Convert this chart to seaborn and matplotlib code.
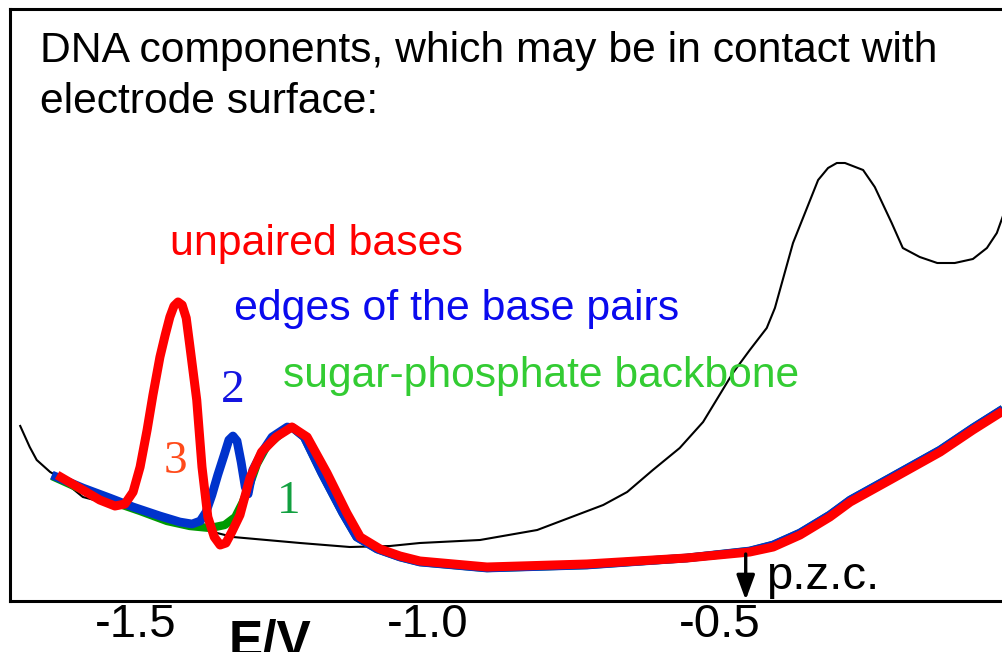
import matplotlib
matplotlib.use("Agg")
import matplotlib.pyplot as plt
import seaborn as sns
import pandas as pd

# Capacitance-potential curves (E in V, C in arbitrary units)
E_electrolyte = [-1.699, -1.682, -1.670, -1.647, -1.635, -1.591, -1.545, -1.493, -1.442,
                 -1.390, -1.368, -1.334, -1.219, -1.134, -1.065, -1.014, -0.911, -0.813,
                 -0.700, -0.659, -0.615, -0.569, -0.529, -0.478, -0.449, -0.420, -0.406,
                 -0.375, -0.332, -0.315, -0.300, -0.286, -0.255, -0.235, -0.206, -0.187,
                 -0.158, -0.128, -0.098, -0.067, -0.043, -0.026, -0.010]
C_electrolyte = [17.5, 15.3, 14.0, 12.8, 12.4, 10.3, 9.6, 8.8, 8.0,
                 7.4, 6.8, 6.3, 5.7, 5.3, 5.4, 5.7, 6.0, 7.0,
                 9.5, 10.8, 13.0, 15.2, 17.8, 22.7, 25.0, 27.2, 29.2,
                 35.7, 42.0, 43.2, 43.7, 43.7, 43.0, 41.3, 37.7, 35.2,
                 34.3, 33.7, 33.7, 34.1, 35.2, 36.7, 39.3]

E_backbone = [-1.644, -1.591, -1.533, -1.493, -1.447, -1.408, -1.373, -1.348, -1.330,
              -1.317, -1.305, -1.293, -1.276, -1.241, -1.231, -1.212, -1.182, -1.146,
              -1.122, -1.087, -1.048, -1.014, -0.899, -0.728, -0.557, -0.449, -0.409,
              -0.363, -0.312, -0.277, -0.209, -0.123, -0.067, -0.010]
C_backbone = [12.4, 11.0, 9.7, 8.9, 7.9, 7.4, 7.2, 7.5, 8.3,
              9.8, 11.6, 13.6, 15.4, 17.2, 17.2, 16.3, 12.7, 8.7,
              6.3, 5.1, 4.3, 3.8, 3.2, 3.5, 4.2, 4.9, 5.5,
              6.7, 8.5, 10.0, 12.2, 15.0, 17.2, 19.3]

E_edges = [-1.644, -1.591, -1.545, -1.505, -1.459, -1.425, -1.404, -1.390, -1.380,
           -1.370, -1.360, -1.349, -1.341, -1.334, -1.327, -1.320, -1.313, -1.308,
           -1.300, -1.284, -1.267, -1.241, -1.231, -1.212, -1.182, -1.146, -1.122,
           -1.087, -1.048, -1.014, -0.899, -0.728, -0.557, -0.449, -0.409, -0.363,
           -0.312, -0.277, -0.209, -0.123, -0.067, -0.010]
C_edges = [12.5, 11.2, 10.2, 9.3, 8.4, 7.8, 7.6, 7.9, 8.8,
           10.5, 12.5, 14.5, 16.0, 16.4, 15.9, 13.8, 11.3, 10.6,
           13.0, 14.8, 16.3, 17.3, 17.2, 16.3, 12.7, 8.7, 6.3,
           5.1, 4.3, 3.8, 3.2, 3.5, 4.2, 4.9, 5.5, 6.7,
           8.5, 10.0, 12.2, 15.0, 17.2, 19.3]

E_unpaired = [-1.635, -1.591, -1.562, -1.536, -1.519, -1.505, -1.493, -1.481, -1.471,
              -1.459, -1.450, -1.442, -1.435, -1.428, -1.421, -1.414, -1.408, -1.396,
              -1.387, -1.377, -1.366, -1.356, -1.346, -1.336, -1.322, -1.305, -1.285,
              -1.260, -1.233, -1.207, -1.173, -1.139, -1.116, -1.082, -1.048, -1.014,
              -0.899, -0.728, -0.557, -0.449, -0.409, -0.363, -0.312, -0.277, -0.209,
              -0.123, -0.067, -0.010]
C_unpaired = [12.5, 11.0, 10.0, 9.4, 9.6, 10.8, 13.3, 17.0, 20.5,
              24.3, 26.5, 28.3, 29.4, 29.8, 29.5, 28.2, 25.5, 20.0,
              13.3, 8.3, 6.3, 5.5, 5.7, 6.8, 8.5, 12.2, 14.8,
              16.3, 17.3, 16.3, 12.7, 8.7, 6.3, 5.1, 4.4, 3.9,
              3.3, 3.6, 4.2, 4.8, 5.3, 6.5, 8.3, 9.8, 12.0,
              14.8, 17.0, 19.1]

tick_values = [-1.5, -1.0, -0.5]
tick_labels = ["-1.5", "-1.0", "-0.5"]
E_pzc = -0.456

sns.set_style("white")
plt.rcParams["font.family"] = ["Liberation Sans", "DejaVu Sans"]
plt.rcParams["axes.unicode_minus"] = False
plt.rcParams["text.color"] = "black"
plt.rcParams["xtick.color"] = "black"

fig = plt.figure(figsize=(10.02, 6.52), dpi=100)
ax = fig.add_axes([9.5 / 1002, 51.5 / 652, 996.5 / 1002, 592 / 652])

curves = [
    (E_electrolyte, C_electrolyte, "black", 1.5),
    (E_backbone, C_backbone, "#009a00", 6.0),
    (E_edges, C_edges, "#0033cc", 6.3),
    (E_unpaired, C_unpaired, "#ff0000", 6.5),
]
for E, C, color, lw in curves:
    df = pd.DataFrame({"E": E, "C": C})
    sns.lineplot(data=df, x="E", y="C", ax=ax, color=color, lw=lw,
                 sort=False, estimator=None, legend=False,
                 solid_capstyle="butt", solid_joinstyle="round")

ax.set_xlim(-1.7166, -0.0103)
ax.set_ylim(-0.05, 59.15)
ax.set_xticks(tick_values)
ax.set_xticklabels(tick_labels, fontsize=34, color="black")
ax.set_yticks([])
ax.tick_params(axis="x", length=0, pad=2)
ax.set_xlabel("")
ax.set_ylabel("")
for side in ["left", "bottom", "top"]:
    ax.spines[side].set_visible(True)
    ax.spines[side].set_color("black")
    ax.spines[side].set_linewidth(2.2)
ax.spines["right"].set_visible(False)

tr = ax.transAxes
ax.text(0.0306, 0.9096, "DNA components, which may be in contact with",
        transform=tr, fontsize=30.7, va="baseline", ha="left", color="black")
ax.text(0.0306, 0.8235, "electrode surface:",
        transform=tr, fontsize=30.7, va="baseline", ha="left", color="black")

ax.text(0.1611, 0.5836, "unpaired bases", transform=tr, fontsize=30.9,
        color="#ff0000", va="baseline", ha="left")
ax.text(0.2253, 0.4738, "edges of the base pairs", transform=tr, fontsize=30.9,
        color="#0a0aee", va="baseline", ha="left")
ax.text(0.2745, 0.3606, "sugar-phosphate backbone", transform=tr, fontsize=30.7,
        color="#33cc33", va="baseline", ha="left")

serif = ["Liberation Serif", "DejaVu Serif"]
ax.text(0.2238, 0.3353, "2", transform=tr, fontsize=34, family=serif,
        color="#1414e0", va="baseline", ha="center")
ax.text(0.1661, 0.2154, "3", transform=tr, fontsize=34, family=serif,
        color="#ff4a1a", va="baseline", ha="center")
ax.text(0.2800, 0.1478, "1", transform=tr, fontsize=34, family=serif,
        color="#12a040", va="baseline", ha="center")

ax.annotate("", xy=(E_pzc, 0.0), xytext=(E_pzc, 4.6),
            xycoords="data", textcoords="data",
            arrowprops=dict(arrowstyle="-|>,head_length=1.5,head_width=0.55",
                            color="black", lw=2.4, shrinkA=0, shrinkB=0))
ax.text(0.7592, 0.0194, "p.z.c.", transform=tr, fontsize=34,
        va="baseline", ha="left", color="black")

ax.text(0.2614, -0.0954, "E/V", transform=tr, fontsize=37, fontweight="bold",
        va="baseline", ha="center", clip_on=False, color="black")

fig.savefig("out.png", dpi=100)
